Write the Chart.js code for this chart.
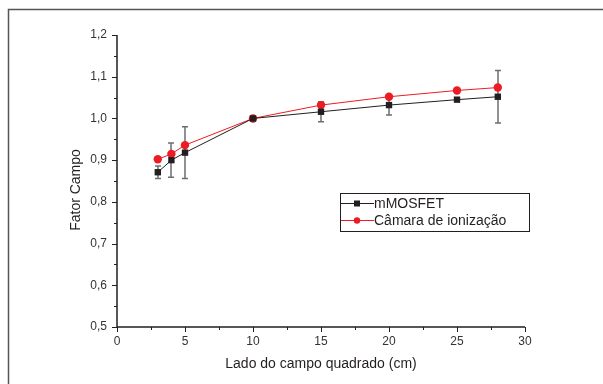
<!DOCTYPE html>
<html><head><meta charset="utf-8">
<script src="https://cdn.jsdelivr.net/npm/chart.js@4"></script>
<style>html,body{margin:0;padding:0;background:#fff}#w{width:603px;height:384px;position:relative}</style>
</head><body><div id="w"><canvas id="c" width="603" height="384"></canvas></div>
<script>
const fieldSizes = [3, 4, 5, 10, 15, 20, 25, 28];
const mosfetValues = [0.871, 0.900, 0.918, 1.000, 1.016, 1.032, 1.045, 1.052];
const mosfetErrors = [0.015, 0.041, 0.062, 0.0, 0.024, 0.024, 0.0, 0.063];
const chamberValues = [0.902, 0.915, 0.936, 1.000, 1.032, 1.052, 1.067, 1.074];
const seriesNames = ['mMOSFET', 'Câmara de ionização'];
const xTicks = [0, 5, 10, 15, 20, 25, 30];
const yTicks = [0.5, 0.6, 0.7, 0.8, 0.9, 1.0, 1.1, 1.2];
const xTitle = 'Lado do campo quadrado (cm)';
const yTitle = 'Fator Campo';

const FONT = 'Liberation Sans, Arial, sans-serif';
const BLACK = '#231f20', RED = '#ed1c24', AXIS = '#231f20', TXT = '#333333';

const ptsOf = vals => fieldSizes.map((x, i) => ({x, y: vals[i]}));

const extras = {
  id: 'extras',
  beforeDatasetsDraw(chart) {
    const ctx = chart.ctx, xs = chart.scales.x, ys = chart.scales.y;
    ctx.save();
    ctx.strokeStyle = '#6d6e71';
    ctx.lineWidth = 1.5;
    fieldSizes.forEach((x, i) => {
      const e = mosfetErrors[i];
      if (!e) return;
      const px = Math.round(xs.getPixelForValue(x));
      const y1 = ys.getPixelForValue(mosfetValues[i] + e);
      const y2 = ys.getPixelForValue(mosfetValues[i] - e);
      ctx.beginPath();
      ctx.moveTo(px, y1); ctx.lineTo(px, y2);
      ctx.moveTo(px - 3, y1); ctx.lineTo(px + 3, y1);
      ctx.moveTo(px - 3, y2); ctx.lineTo(px + 3, y2);
      ctx.stroke();
    });
    ctx.restore();
  },
  afterDraw(chart) {
    const ctx = chart.ctx, xs = chart.scales.x, ys = chart.scales.y;
    const a = chart.chartArea;
    ctx.save();
    // outer frame
    ctx.strokeStyle = '#555';
    ctx.lineWidth = 1.5;
    ctx.beginPath();
    ctx.moveTo(8.5, 384); ctx.lineTo(8.5, 9.5); ctx.lineTo(603, 9.5);
    ctx.stroke();
    // axes lines
    ctx.strokeStyle = AXIS;
    ctx.lineWidth = 1.5;
    ctx.beginPath();
    ctx.moveTo(a.left, a.top); ctx.lineTo(a.left, a.bottom); ctx.lineTo(a.right, a.bottom);
    ctx.stroke();
    // ticks
    ctx.lineWidth = 1;
    ctx.beginPath();
    xTicks.forEach(v => { const p = Math.round(xs.getPixelForValue(v)) + 0.5; ctx.moveTo(p, a.bottom); ctx.lineTo(p, a.bottom + 5); });
    xTicks.slice(0, -1).forEach(v => { const p = Math.round(xs.getPixelForValue(v + 2.5)) + 0.5; ctx.moveTo(p, a.bottom); ctx.lineTo(p, a.bottom + 3); });
    yTicks.forEach(v => { const p = Math.round(ys.getPixelForValue(v)) + 0.5; ctx.moveTo(a.left, p); ctx.lineTo(a.left - 5, p); });
    yTicks.slice(0, -1).forEach(v => { const p = Math.round(ys.getPixelForValue(v + 0.05)) + 0.5; ctx.moveTo(a.left, p); ctx.lineTo(a.left - 3, p); });
    ctx.stroke();
    // axis titles
    ctx.fillStyle = '#231f20';
    ctx.font = '14px ' + FONT;
    ctx.textAlign = 'center';
    ctx.textBaseline = 'middle';
    ctx.fillText(xTitle, (a.left + a.right) / 2, 364);
    ctx.save();
    ctx.translate(76, 190);
    ctx.rotate(-Math.PI / 2);
    ctx.fillText(yTitle, 0, 0);
    ctx.restore();
    // legend
    const lx = 340, ly = 193, lw = 189, lh = 38;
    ctx.fillStyle = '#fff';
    ctx.fillRect(lx, ly, lw, lh);
    ctx.strokeStyle = '#231f20';
    ctx.lineWidth = 1;
    ctx.strokeRect(lx + 0.5, ly + 0.5, lw, lh);
    ctx.font = '14px ' + FONT;
    ctx.textAlign = 'left';
    ctx.textBaseline = 'middle';
    const rows = [{c: BLACK, shape: 'sq', y: 203}, {c: RED, shape: 'ci', y: 220}];
    rows.forEach((r, i) => {
      ctx.strokeStyle = r.c; ctx.lineWidth = 1;
      ctx.beginPath(); ctx.moveTo(341, r.y + 0.5); ctx.lineTo(374, r.y + 0.5); ctx.stroke();
      ctx.fillStyle = r.c;
      if (r.shape === 'sq') ctx.fillRect(354, r.y - 2.5, 6, 6);
      else { ctx.beginPath(); ctx.arc(357, r.y + 0.5, 3.2, 0, Math.PI * 2); ctx.fill(); }
      ctx.fillStyle = '#231f20';
      ctx.fillText(seriesNames[i], 374, r.y + 1);
    });
    ctx.restore();
  }
};

new Chart(document.getElementById('c'), {
  type: 'scatter',
  data: {
    datasets: [
      { label: seriesNames[1], data: ptsOf(chamberValues), showLine: true, borderColor: RED, backgroundColor: RED,
        borderWidth: 1, pointStyle: 'circle', pointRadius: 4.2, pointBorderWidth: 0, order: 2 },
      { label: seriesNames[0], data: ptsOf(mosfetValues), showLine: true, borderColor: BLACK, backgroundColor: BLACK,
        borderWidth: 1, pointStyle: 'rect', pointRadius: 4.5, pointBorderWidth: 0, order: 1 }
    ]
  },
  plugins: [extras],
  options: {
    responsive: false, animation: false, devicePixelRatio: 1,
    layout: { padding: { left: 0, right: 78, top: 35, bottom: 0 } },
    plugins: { legend: { display: false }, tooltip: { enabled: false } },
    scales: {
      x: {
        type: 'linear', min: 0, max: 30,
        afterFit: s => { s.height = 57; },
        afterBuildTicks: s => { s.ticks = xTicks.map(v => ({value: v})); },
        border: { display: false },
        grid: { display: false, drawTicks: false },
        ticks: { color: TXT, font: { family: FONT, size: 12 }, padding: 7, maxRotation: 0, callback: v => String(v) },
        title: { display: false }
      },
      y: {
        type: 'linear', min: 0.5, max: 1.2,
        afterFit: s => { s.width = 117; },
        afterBuildTicks: s => { s.ticks = yTicks.map(v => ({value: v})); },
        border: { display: false },
        grid: { display: false, drawTicks: false },
        ticks: { color: TXT, font: { family: FONT, size: 12 }, padding: 10, callback: v => v.toFixed(1).replace('.', ',') },
        title: { display: false }
      }
    }
  }
});
</script>
</body></html>
